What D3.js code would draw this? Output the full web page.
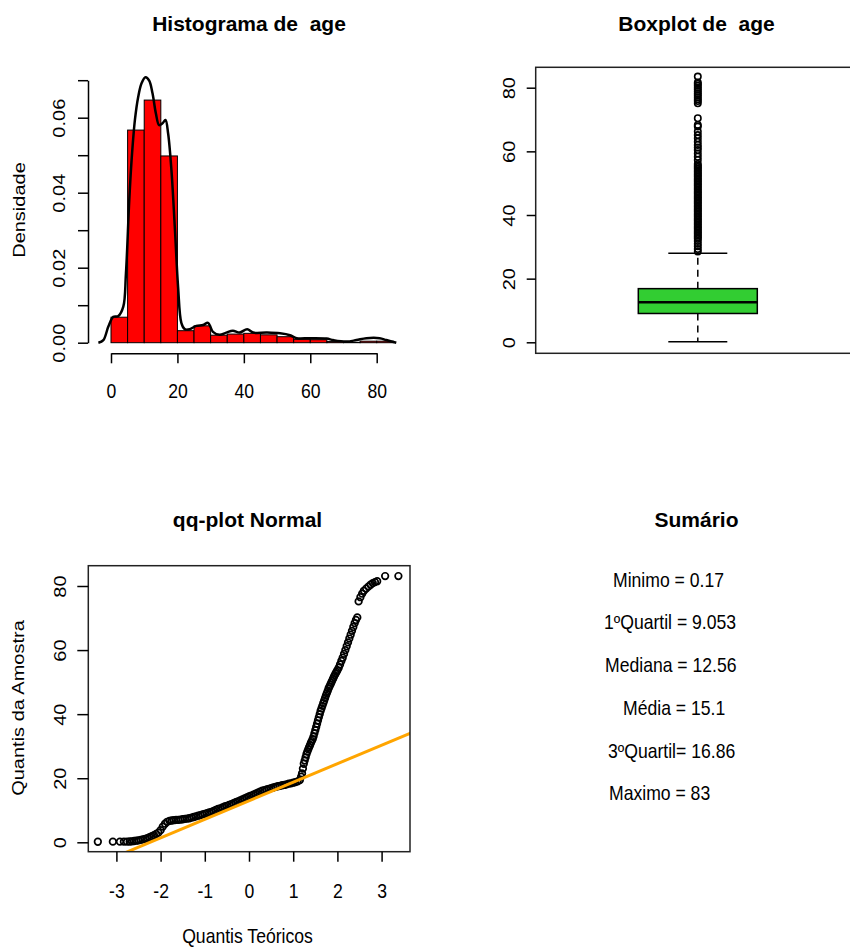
<!DOCTYPE html>
<html><head><meta charset="utf-8">
<script src="https://cdn.jsdelivr.net/npm/d3@7/dist/d3.min.js"></script>
<style>body{margin:0;background:#fff}svg{display:block}</style>
</head><body><svg id="c" width="850" height="950"></svg>
<script>
// ---------------- DATA ----------------
const histBreaks = [0,5,10,15,20,25,30,35,40,45,50,55,60,65,70,75,80,85];
const histDensity = [0.0068,0.0567,0.0647,0.0498,0.0032,0.0045,0.0020,0.0023,0.0025,0.0021,0.0016,0.0009,0.0008,0.0003,0.0001,0.0004,0.0004];
const densityX = [-3.8,-2.3,-0.8,0.7,2.2,3.7,4.5,5.5,6.2,7.2,8.2,9.2,10.4,11.5,12.5,13.5,14.5,15.5,16.4,17.2,18.2,19.2,20.2,21.2,22.2,23.7,25.7,27.7,29.2,30.7,32.7,34.7,36.7,38.7,41.0,42.8,46.9,50.9,53.9,55.9,59.9,64.9,66.9,70.9,73.9,76.9,80.9,82.9,85.9];
const densityY = [0,0.0007,0.0043,0.0069,0.0071,0.0096,0.0185,0.038,0.0487,0.0594,0.0656,0.0692,0.0708,0.0699,0.0665,0.0612,0.058,0.0585,0.0594,0.0558,0.046,0.031,0.0149,0.0052,0.0036,0.0036,0.0045,0.0047,0.0053,0.0029,0.0021,0.0027,0.0032,0.0027,0.0036,0.0027,0.0027,0.0025,0.0020,0.0012,0.0012,0.0011,0.0007,0.0003,0.0007,0.0012,0.0012,0.0007,0];
const histXTicks = [0,20,40,60,80];
const histYTicks = [0,0.01,0.02,0.03,0.04,0.05,0.06,0.07];
const histYLabels = ["0.00","","0.02","","0.04","","0.06",""];

const summaryNames = ["Minimo =","1ºQuartil =","Mediana =","Média =","3ºQuartil=","Maximo ="];
const summaryValues = [0.17, 9.053, 12.56, 15.1, 16.86, 83];

const boxUpperWhisker = 28.0;
const boxOutliers = [28.5,29.3,30.2,31.0,31.8,32.5,33,33.5,34,34.5,35,35.5,36,36.5,37,37.5,38,38.5,39,39.5,40,40.5,41,41.5,42,42.5,43,43.5,44,44.5,45,45.5,46,46.5,47,47.5,48,48.5,49,49.5,50,50.5,51,51.5,52,52.5,53,53.5,54,54.5,55,55.5,56.0,57.3,58.3,59.3,60.4,61.2,62.0,63.0,64.1,65.1,66.2,67.8,68.3,70.4,75.1,75.8,76.4,77.0,77.6,78.2,78.8,79.4,80.0,80.6,81.2,81.6,83.5];
const boxYTicks = [0,20,40,60,80];

const qqTheoretical = [-3.42,-3.08,-2.92,-2.83,-2.76,-2.70,-2.65,-2.60,-2.55,-2.50,-2.45,-2.40,-2.35,-2.30,-2.25,-2.20,-2.15,-2.10,-2.05,-2.00,-1.95,-1.90,-1.85,-1.80,-1.75,-1.70,-1.65,-1.60,-1.55,-1.50,-1.45,-1.40,-1.35,-1.30,-1.25,-1.20,-1.15,-1.10,-1.05,-1.00,-0.95,-0.90,-0.85,-0.80,-0.75,-0.70,-0.65,-0.60,-0.55,-0.50,-0.45,-0.40,-0.35,-0.30,-0.25,-0.20,-0.15,-0.10,-0.05,0.00,0.05,0.10,0.15,0.20,0.25,0.30,0.35,0.40,0.45,0.50,0.55,0.60,0.65,0.70,0.75,0.80,0.85,0.90,0.95,1.00,1.05,1.10,1.15,1.18,1.20,1.22,1.24,1.26,1.28,1.30,1.32,1.34,1.36,1.38,1.40,1.42,1.44,1.46,1.48,1.50,1.52,1.54,1.56,1.58,1.60,1.62,1.64,1.66,1.68,1.70,1.72,1.74,1.76,1.78,1.80,1.82,1.84,1.86,1.88,1.90,1.92,1.94,1.96,1.98,2.00,2.03,2.06,2.09,2.12,2.15,2.18,2.21,2.24,2.27,2.30,2.33,2.36,2.39,2.42,2.45,2.48,2.52,2.56,2.60,2.65,2.70,2.75,2.80,2.85,2.90,3.08,3.38];
const qqSample = [0.17,0.2,0.2,0.2,0.2,0.25,0.3,0.4,0.5,0.6,0.75,0.9,1.1,1.3,1.6,1.9,2.2,2.6,3.0,3.8,4.9,5.8,6.4,6.7,6.8,6.9,7.0,7.0,7.1,7.2,7.3,7.4,7.5,7.7,7.9,8.1,8.3,8.5,8.7,8.9,9.1,9.3,9.5,9.8,10.1,10.4,10.6,10.9,11.2,11.4,11.7,11.9,12.2,12.5,12.8,13.1,13.4,13.7,14.0,14.3,14.6,14.9,15.2,15.5,15.8,16.1,16.3,16.5,16.7,16.9,17.1,17.3,17.5,17.6,17.8,17.9,18.1,18.3,18.4,18.6,18.8,19.0,19.4,20.5,21.5,23,24.5,25.5,26.5,27.5,28.3,29,29.7,30.3,31,31.6,32.2,33,34,35,36,37,38,39,40,41,41.8,42.6,43.4,44.2,45,45.8,46.5,47.2,48,48.6,49.2,49.8,50.4,51,51.6,52.2,52.7,53.2,53.7,54.5,55.5,56.6,57.6,58.8,60,61.2,62.4,63.6,64.8,66,67.2,68.4,69.4,70.2,75.2,76.5,77.6,78.5,79.2,79.8,80.4,80.9,81.2,81.5,83.1,83.1];
const qqXTicks = [-3,-2,-1,0,1,2,3];
const qqYTicks = [0,20,40,60,80];

// ---------------- HELPERS ----------------
const FONT = '"Liberation Sans", Arial, Helvetica, sans-serif';
const svg = d3.select("#c").attr("font-family", FONT);

function title(x, y, t) {
  svg.append("text").attr("x", x).attr("y", y).attr("text-anchor", "middle")
    .attr("font-weight", "bold").attr("font-size", 21).style("white-space", "pre").text(t);
}
function hText(x, y, t, anchor) {
  svg.append("text").attr("transform", `translate(${x},${y}) scale(0.88,1)`)
    .attr("text-anchor", anchor || "middle").attr("font-size", 20).style("white-space", "pre").text(t);
}
function vText(x, y, t, size) {
  svg.append("text").attr("transform", `translate(${x},${y}) rotate(-90) scale(1.25,1)`)
    .attr("text-anchor", "middle").attr("font-size", size).text(t);
}
function styleAxis(g) {
  g.attr("font-family", FONT).attr("font-size", 20);
  g.select(".domain").attr("stroke-width", 1.5);
  g.selectAll(".tick line").attr("stroke-width", 1.5);
}
function bottomLabels(g, off) {
  g.selectAll(".tick text").attr("y", null).attr("dy", null).attr("text-anchor", "middle")
    .attr("font-size", 20).attr("transform", `translate(0,${off}) scale(0.88,1)`);
}
function leftLabels(g, off) {
  g.selectAll(".tick text").attr("x", null).attr("dy", null).attr("text-anchor", "middle")
    .attr("font-size", 16).attr("transform", `translate(${-off},0) rotate(-90) scale(1.25,1)`);
}

// ---------------- HISTOGRAM ----------------
const hx = d3.scaleLinear().domain([0, 80]).range([111, 376.7]);
const hy = d3.scaleLinear().domain([0, 0.07]).range([342.7, 80.2]);
const bars = histDensity.map((d, i) => ({ x0: histBreaks[i], x1: histBreaks[i + 1], d }));
svg.append("g").selectAll("rect").data(bars).join("rect")
  .attr("x", b => hx(b.x0)).attr("width", b => hx(b.x1) - hx(b.x0))
  .attr("y", b => hy(b.d)).attr("height", b => hy(0) - hy(b.d))
  .attr("fill", "#ff0000").attr("stroke", "#000").attr("stroke-width", 1);
const dens = densityX.map((x, i) => [x, densityY[i]]);
svg.append("path").datum(dens)
  .attr("d", d3.line().x(p => hx(p[0])).y(p => hy(p[1])).curve(d3.curveCatmullRom))
  .attr("fill", "none").attr("stroke", "#000").attr("stroke-width", 2.5);
const hxa = svg.append("g").attr("transform", "translate(0,353.3)")
  .call(d3.axisBottom(hx).tickValues(histXTicks).tickSize(10).tickSizeOuter(0).tickFormat(d => String(d)));
styleAxis(hxa); bottomLabels(hxa, 44.7);
const hya = svg.append("g").attr("transform", "translate(88,0)")
  .call(d3.axisLeft(hy).tickValues(histYTicks).tickSize(10).tickSizeOuter(0).tickFormat((d, i) => histYLabels[i]));
styleAxis(hya); leftLabels(hya, 23);
title(249, 31, "Histograma de  age");
vText(25, 210, "Densidade", 16);

// ---------------- BOXPLOT ----------------
const bx = d3.scaleBand().domain(["age"]).range([535.7, 859.9]);
const by = d3.scaleLinear().domain([0, 80]).range([342.3, 87.7]);
const cx = bx("age") + bx.bandwidth() / 2;
const boxHalf = 59.5, capHalf = 29.5;
svg.append("rect").attr("x", 535.7).attr("y", 67.3).attr("width", 324.2).attr("height", 286)
  .attr("fill", "none").attr("stroke", "#222").attr("stroke-width", 1.5);
const q1 = summaryValues[1], med = summaryValues[2], q3 = summaryValues[4], mn = summaryValues[0];
svg.append("line").attr("x1", cx).attr("x2", cx).attr("y1", by(q3)).attr("y2", by(boxUpperWhisker))
  .attr("stroke", "#000").attr("stroke-width", 1.5).attr("stroke-dasharray", "7,5");
svg.append("line").attr("x1", cx).attr("x2", cx).attr("y1", by(q1)).attr("y2", by(mn))
  .attr("stroke", "#000").attr("stroke-width", 1.5).attr("stroke-dasharray", "7,5");
[mn, boxUpperWhisker].forEach(v => svg.append("line").attr("x1", cx - capHalf).attr("x2", cx + capHalf)
  .attr("y1", by(v)).attr("y2", by(v)).attr("stroke", "#000").attr("stroke-width", 1.5));
svg.append("rect").attr("x", cx - boxHalf).attr("width", 2 * boxHalf).attr("y", by(q3)).attr("height", by(q1) - by(q3))
  .attr("fill", "#32cd32").attr("stroke", "#000").attr("stroke-width", 1.5);
svg.append("line").attr("x1", cx - boxHalf).attr("x2", cx + boxHalf).attr("y1", by(med)).attr("y2", by(med))
  .attr("stroke", "#000").attr("stroke-width", 2.5);
svg.append("g").selectAll("circle").data(boxOutliers).join("circle")
  .attr("cx", cx).attr("cy", d => by(d)).attr("r", 3.2)
  .attr("fill", "none").attr("stroke", "#000").attr("stroke-width", 1.6);
const bya = svg.append("g").attr("transform", "translate(535.7,0)")
  .call(d3.axisLeft(by).tickValues(boxYTicks).tickSize(9).tickSizeOuter(0));
styleAxis(bya); leftLabels(bya, 21);
bya.select(".domain").remove();
title(696.5, 31, "Boxplot de  age");

// ---------------- QQ PLOT ----------------
const qx = d3.scaleLinear().domain([-3, 3]).range([116.4, 381.6]);
const qy = d3.scaleLinear().domain([0, 80]).range([842.3, 586]);
const qLeft = 88.3, qRight = 410, qTop = 565.7, qBottom = 851.7;
svg.append("clipPath").attr("id", "qclip").append("rect")
  .attr("x", qLeft).attr("y", qTop).attr("width", qRight - qLeft).attr("height", qBottom - qTop);
const qpts = qqTheoretical.map((t, i) => [t, qqSample[i]]);
svg.append("g").selectAll("circle").data(qpts).join("circle")
  .attr("cx", p => qx(p[0])).attr("cy", p => qy(p[1])).attr("r", 3.3)
  .attr("fill", "none").attr("stroke", "#000").attr("stroke-width", 1.7);
// qqline through the quartiles
const zq = 0.6744898;
const slope = (q3 - q1) / (2 * zq);
const intercept = q1 + slope * zq;
const tDom = [-4, 4];
svg.append("line").attr("clip-path", "url(#qclip)")
  .attr("x1", qx(tDom[0])).attr("y1", qy(intercept + slope * tDom[0]))
  .attr("x2", qx(tDom[1])).attr("y2", qy(intercept + slope * tDom[1]))
  .attr("stroke", "#ffa500").attr("stroke-width", 3);
svg.append("rect").attr("x", qLeft).attr("y", qTop).attr("width", qRight - qLeft).attr("height", qBottom - qTop)
  .attr("fill", "none").attr("stroke", "#222").attr("stroke-width", 1.5);
const qxa = svg.append("g").attr("transform", `translate(0,${qBottom})`)
  .call(d3.axisBottom(qx).tickValues(qqXTicks).tickSize(10).tickSizeOuter(0).tickFormat(d => String(d)));
styleAxis(qxa); bottomLabels(qxa, 46.6); qxa.select(".domain").remove();
const qya = svg.append("g").attr("transform", `translate(${qLeft},0)`)
  .call(d3.axisLeft(qy).tickValues(qqYTicks).tickSize(11).tickSizeOuter(0));
styleAxis(qya); leftLabels(qya, 22); qya.select(".domain").remove();
title(247.5, 527, "qq-plot Normal");
vText(24, 708, "Quantis da Amostra", 16);
hText(247.5, 943.3, "Quantis Teóricos");

// ---------------- SUMMARY ----------------
title(696.5, 527, "Sumário");
const sumX = [613, 604, 605, 623, 608, 609];
summaryNames.forEach((n, i) => hText(sumX[i], 586.7 + i * 42.7, n + " " + summaryValues[i], "start"));
</script>
</body></html>
